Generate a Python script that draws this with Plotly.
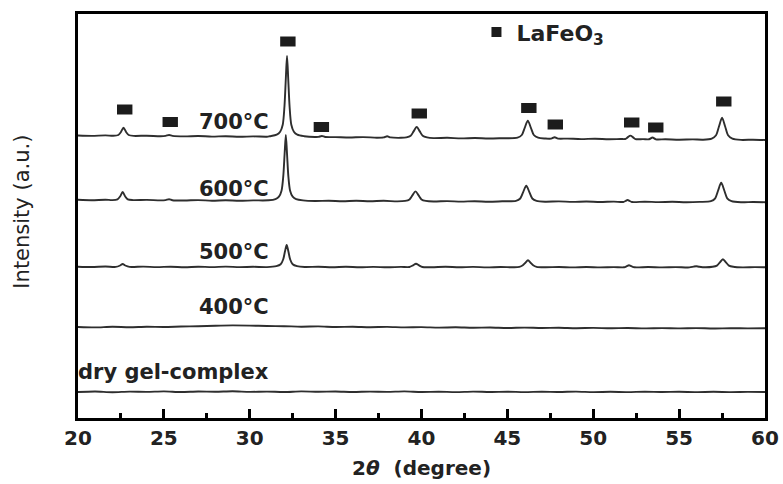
import plotly.graph_objects as go

# ---------------- data ----------------
# 2-theta (degree) / intensity (arbitrary units, offset per pattern)
x_700 = [20.0, 20.8, 21.6, 22.05, 22.35, 22.5, 22.65, 22.8, 22.95, 23.25, 24.0, 24.8, 25.1, 25.3, 25.5,
         26.2, 27.0, 27.8, 28.6, 29.4, 30.2, 31.0, 31.17, 31.57, 31.77, 31.92, 32.02, 32.10, 32.17, 32.24,
         32.32, 32.42, 32.57, 32.77, 33.17, 33.8, 34.0, 34.2, 34.4, 35.0, 35.8, 36.6, 37.4, 37.8, 38.0,
         38.2, 38.8, 39.12, 39.37, 39.54, 39.72, 39.9, 40.07, 40.32, 40.7, 41.5, 42.3, 43.1, 43.9, 44.7,
         45.59, 45.84, 46.01, 46.19, 46.37, 46.54, 46.79, 47.2, 47.55, 47.75, 47.95, 48.5, 49.3, 50.1,
         50.9, 51.6, 51.86, 52.0, 52.16, 52.32, 52.46, 52.9, 53.25, 53.45, 53.65, 54.2, 55.0, 55.8, 56.4,
         56.9, 57.15, 57.32, 57.5, 57.68, 57.85, 58.1, 58.6, 59.3, 60.0]
y_700 = [282.5, 282.1, 282.6, 282.2, 283.0, 286.0, 290.3, 286.0, 283.0, 282.1, 282.3, 281.8, 282.1, 283.0, 282.1,
         281.6, 282.0, 281.4, 281.8, 281.2, 281.6, 281.3, 281.8, 283.3, 286.3, 293.3, 311.3, 339.3, 362.0, 339.3,
         311.3, 293.3, 286.3, 283.3, 281.8, 281.0, 281.1, 282.0, 281.0, 280.9, 280.5, 280.9, 280.3, 280.6, 281.8,
         280.6, 280.2, 280.6, 282.2, 286.6, 291.0, 286.6, 282.2, 280.6, 279.9, 280.2, 279.6, 280.0, 279.5, 279.8,
         280.3, 283.0, 290.2, 297.4, 290.2, 283.0, 280.3, 279.5, 279.4, 280.8, 279.4, 279.4, 278.9, 279.3,
         278.8, 279.0, 279.0, 280.6, 282.4, 280.6, 278.9, 278.9, 278.7, 280.5, 278.7, 278.8, 278.3, 278.6, 278.3,
         279.4, 282.7, 291.5, 300.3, 291.5, 282.7, 279.3, 278.1, 278.3, 278.0]

x_600 = [20.0, 20.8, 21.6, 22.0, 22.3, 22.45, 22.6, 22.75, 22.9, 23.2, 24.0, 24.8, 25.1, 25.3, 25.5,
         26.2, 27.0, 27.8, 28.6, 29.4, 30.2, 31.1, 31.5, 31.7, 31.85, 31.95, 32.03, 32.1, 32.17, 32.25,
         32.35, 32.5, 32.7, 33.1, 33.8, 34.6, 35.4, 36.2, 37.0, 37.8, 38.6, 39.05, 39.3, 39.47, 39.65,
         39.83, 40.0, 40.25, 40.7, 41.5, 42.3, 43.1, 43.9, 44.7, 45.5, 45.75, 45.92, 46.1, 46.28, 46.45,
         46.7, 47.2, 48.0, 48.8, 49.6, 50.4, 51.2, 51.75, 51.88, 52.0, 52.12, 52.25, 53.0, 53.8, 54.6,
         55.4, 56.2, 56.85, 57.1, 57.27, 57.45, 57.63, 57.8, 58.05, 58.6, 59.3, 60.0]
y_600 = [218.2, 217.8, 218.3, 217.9, 218.7, 221.5, 226.0, 221.5, 218.6, 217.9, 218.1, 217.6, 217.9, 218.8, 217.8,
         217.5, 217.9, 217.3, 217.7, 217.2, 217.6, 217.7, 218.9, 221.3, 227.3, 241.3, 264.3, 283.0, 264.3, 241.3,
         227.3, 221.3, 218.9, 217.6, 217.0, 217.3, 216.8, 217.2, 216.7, 217.2, 216.6, 217.1, 218.6, 222.6, 226.6,
         222.6, 218.6, 217.1, 216.5, 216.9, 216.4, 216.8, 216.3, 216.7, 217.1, 219.5, 225.9, 232.3, 225.9, 219.5,
         217.1, 216.3, 216.6, 216.1, 216.5, 216.0, 216.4, 216.0, 217.0, 218.0, 217.0, 216.0, 216.3, 215.9, 216.2,
         215.8, 216.1, 216.8, 219.7, 227.5, 235.3, 227.5, 219.7, 216.8, 215.7, 216.0, 215.8]

x_500 = [20.0, 20.8, 21.6, 22.2, 22.45, 22.6, 22.75, 23.0, 23.8, 24.6, 25.4, 26.2, 27.0, 27.8, 28.6,
         29.4, 30.2, 31.0, 31.55, 31.8, 31.95, 32.05, 32.15, 32.25, 32.35, 32.5, 32.75, 33.2, 34.0, 34.8,
         35.6, 36.4, 37.2, 38.0, 38.8, 39.3, 39.5, 39.68, 39.86, 40.05, 40.6, 41.4, 42.2, 43.0, 43.8,
         44.6, 45.4, 45.7, 45.9, 46.05, 46.2, 46.35, 46.5, 46.7, 47.2, 48.0, 48.8, 49.6, 50.4, 51.2,
         51.8, 51.95, 52.08, 52.22, 52.4, 53.2, 54.0, 54.8, 55.6, 55.85, 56.0, 56.15, 56.5, 56.95, 57.2,
         57.37, 57.55, 57.73, 57.9, 58.15, 58.7, 59.4, 60.0]
y_500 = [151.3, 151.0, 151.5, 151.1, 152.5, 154.0, 152.5, 151.1, 151.4, 150.9, 151.3, 150.8, 151.3, 150.9, 151.4,
         150.9, 151.2, 150.9, 151.8, 153.7, 158.8, 166.5, 173.0, 166.5, 158.8, 153.7, 151.8, 151.0, 151.3, 150.8,
         151.2, 150.7, 151.1, 150.7, 151.1, 151.0, 152.6, 154.3, 152.6, 151.0, 150.8, 151.2, 150.7, 151.1, 150.6,
         151.0, 150.7, 151.2, 152.8, 155.2, 157.7, 155.2, 152.8, 151.2, 150.7, 151.0, 150.6, 151.0, 150.6, 150.9,
         150.7, 151.8, 152.7, 151.8, 150.7, 151.0, 150.6, 150.9, 150.6, 151.4, 151.7, 151.3, 150.7, 151.2, 152.4,
         155.6, 158.8, 155.6, 152.4, 151.2, 150.6, 150.9, 150.7]

x_400 = [20, 21, 22, 23, 24, 25, 26, 27, 28, 29, 30, 31, 32, 33, 34, 35, 36, 37, 38, 39, 40,
         41, 42, 43, 44, 45, 46, 47, 48, 49, 50, 51, 52, 53, 54, 55, 56, 57, 58, 59, 60]
y_400 = [91.0, 90.6, 91.2, 90.8, 91.3, 91.0, 91.5, 91.8, 92.3, 92.6, 92.4, 92.0, 91.8, 91.3, 91.6, 91.0, 91.3,
         90.8, 91.1, 90.6, 90.9, 90.4, 90.7, 90.2, 90.5, 90.0, 90.4, 90.0, 90.3, 89.8, 90.1, 89.7, 90.0,
         89.6, 89.9, 89.6, 89.9, 89.5, 89.8, 89.6, 89.7]

x_gel = [20, 21, 22, 23, 24, 25, 26, 27, 28, 29, 30, 31, 32, 33, 34, 35, 36, 37, 38, 39, 40,
         41, 42, 43, 44, 45, 46, 47, 48, 49, 50, 51, 52, 53, 54, 55, 56, 57, 58, 59, 60]
y_gel = [26.0, 26.5, 25.8, 26.4, 26.1, 26.6, 26.0, 26.5, 26.2, 26.7, 26.1, 26.4, 26.0, 26.6, 26.2, 26.5, 26.0,
         26.4, 26.1, 26.6, 26.0, 26.3, 25.9, 26.4, 26.0, 26.3, 25.9, 26.3, 26.0, 26.4, 25.9, 26.2, 25.9,
         26.3, 26.0, 26.2, 25.9, 26.2, 25.9, 26.1, 26.0]

# LaFeO3 reflection markers
mark_x = [22.72, 25.37, 32.22, 34.17, 39.87, 46.25, 47.79, 52.24, 53.64, 57.6]
mark_y = [308.5, 296.0, 376.5, 291.0, 304.5, 310.0, 293.5, 295.5, 290.5, 316.5]

labels = ["700\u00b0C", "600\u00b0C", "500\u00b0C", "400\u00b0C", "dry gel-complex"]
label_y = [296, 229.5, 166, 111, 46]
label_x = 31.25

x_ticks = [20, 25, 30, 35, 40, 45, 50, 55, 60]

# ---------------- figure ----------------
LINE = "#2e2e2e"
TXT = "#222222"
MARK = "#1c1c1c"
FONT = "DejaVu Sans"

fig = go.Figure()
for xs, ys in [(x_700, y_700), (x_600, y_600), (x_500, y_500), (x_400, y_400), (x_gel, y_gel)]:
    fig.add_trace(go.Scatter(x=xs, y=ys, mode="lines",
                             line=dict(color=LINE, width=1.9, shape="spline", smoothing=0.8),
                             showlegend=False, hoverinfo="skip"))

# reflection markers (rectangular blocks)
fig.add_trace(go.Scatter(x=mark_x, y=mark_y, mode="markers", name="LaFeO3",
                         marker=dict(symbol="line-ew", size=11, color=MARK,
                                     line=dict(width=10, color=MARK)),
                         hoverinfo="skip", showlegend=False))
# legend entry only (no data drawn)
fig.add_trace(go.Scatter(x=[None], y=[None], mode="markers", name="<b>LaFeO<sub>3</sub></b>",
                         marker=dict(symbol="square", size=10, color=MARK, line=dict(width=0)),
                         hoverinfo="skip", showlegend=True))

for t, yy in zip(labels, label_y):
    fig.add_annotation(x=label_x, y=yy, text="<b>%s</b>" % t, showarrow=False,
                       xanchor="right", yanchor="middle",
                       font=dict(family=FONT, size=21, color=TXT))

fig.add_annotation(xref="paper", yref="paper", x=-0.082, y=0.51, text="Intensity (a.u.)",
                   textangle=-90, showarrow=False, xanchor="center", yanchor="middle",
                   font=dict(family=FONT, size=21, color=TXT))

fig.update_layout(
    width=783, height=484,
    margin=dict(l=78, r=18, t=14, b=66, autoexpand=False),
    paper_bgcolor="white", plot_bgcolor="white",
    legend=dict(x=0.58, y=0.955, xanchor="left", yanchor="middle",
                font=dict(family=FONT, size=22, color=TXT),
                bgcolor="rgba(0,0,0,0)", itemsizing="trace"),
    font=dict(family=FONT, color=TXT),
)

fig.update_xaxes(
    range=[20, 60], tickmode="array", tickvals=x_ticks, ticktext=["<b>%d</b>" % v for v in x_ticks],
    ticks="inside", ticklen=9, tickwidth=3, tickcolor="black",
    minor=dict(ticks="inside", dtick=2.5, tick0=20, ticklen=5, tickwidth=3, tickcolor="black"),
    showline=True, linewidth=3, linecolor="black", mirror=True,
    showgrid=False, zeroline=False, automargin=False,
    tickfont=dict(family=FONT, size=20, color=TXT),
    title=dict(text="<b>2<i>\u03b8</i>  (degree)</b>", standoff=12,
               font=dict(family=FONT, size=20, color=TXT)),
)
fig.update_yaxes(
    range=[0, 404], showticklabels=False, ticks="",
    showline=True, linewidth=3, linecolor="black", mirror=True,
    showgrid=False, zeroline=False, automargin=False,
)

fig.write_html("out.html", config={"displayModeBar": False},
               post_script="document.body.style.margin='0px';")
